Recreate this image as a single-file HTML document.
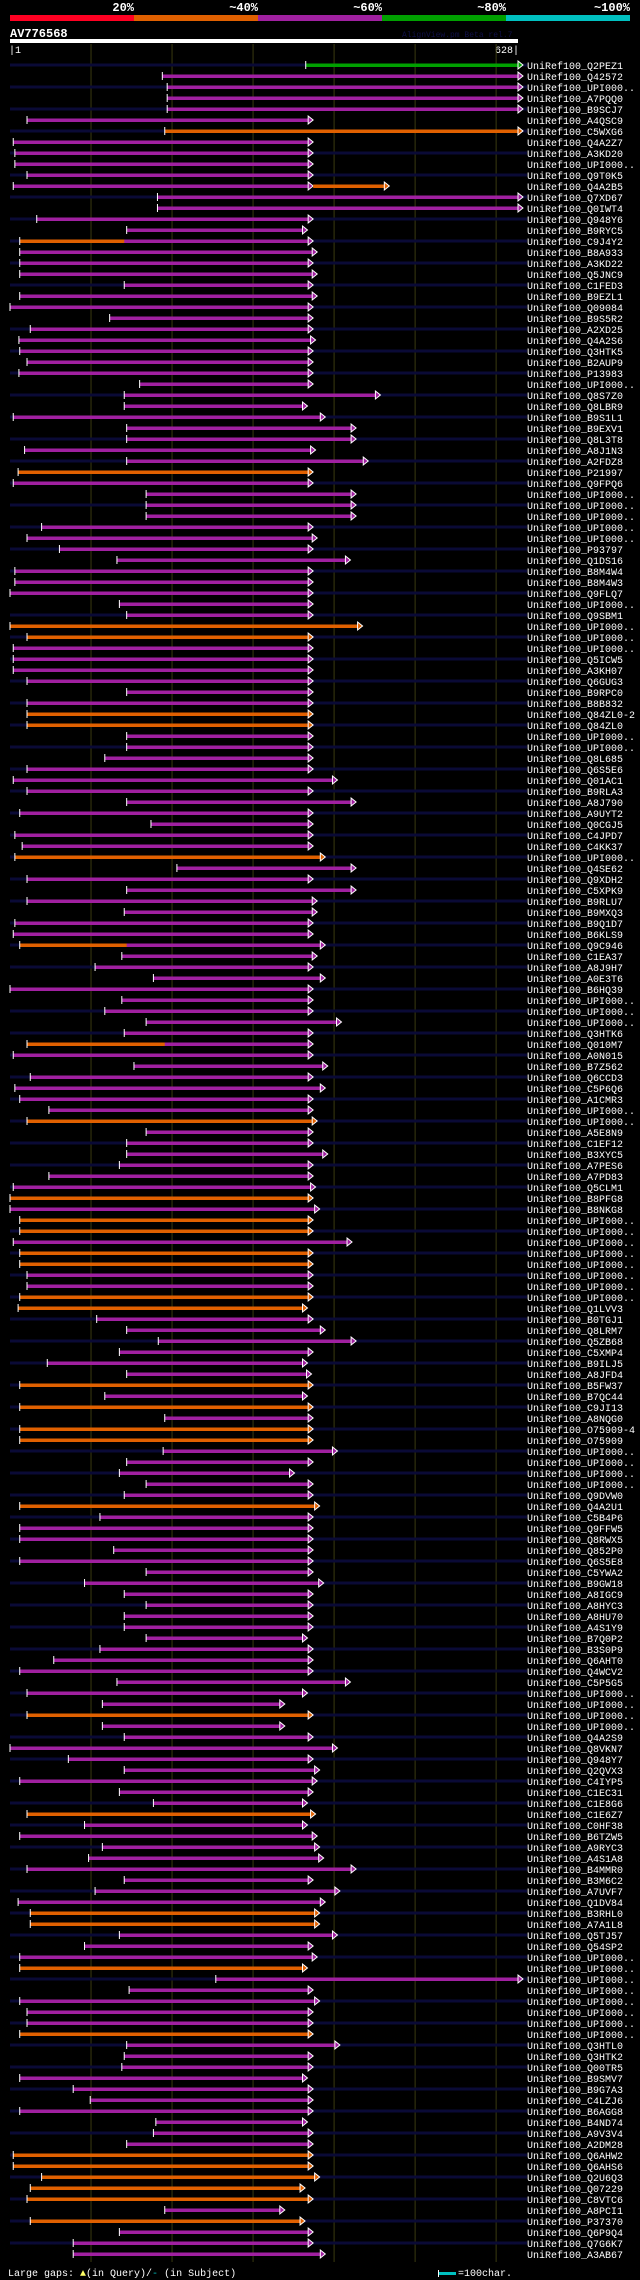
<!DOCTYPE html>
<html><head><meta charset="utf-8"><title>AV776568 alignment view</title>
<style>
html,body{margin:0;padding:0;background:#000;}
body{width:640px;height:2280px;overflow:hidden;font-family:"Liberation Mono",monospace;}
svg{display:block;}
</style></head>
<body>
<svg id="chart" width="640" height="2280" viewBox="0 0 640 2280" xmlns="http://www.w3.org/2000/svg">
<rect x="0" y="0" width="640" height="2280" fill="#000"/>
<g font-family="Liberation Mono, monospace" font-weight="bold" font-size="12" fill="#fff" text-anchor="end">
<text x="134" y="11">20%</text>
<text x="258" y="11">~40%</text>
<text x="382" y="11">~60%</text>
<text x="506" y="11">~80%</text>
<text x="630" y="11">~100%</text>
<rect x="10" y="15" width="124" height="6" fill="#ff0022"/>
<rect x="134" y="15" width="124" height="6" fill="#e06000"/>
<rect x="258" y="15" width="124" height="6" fill="#a020a0"/>
<rect x="382" y="15" width="124" height="6" fill="#00a000"/>
<rect x="506" y="15" width="124" height="6" fill="#00c0c0"/>
</g>
<text x="10" y="37" fill="#fff" font-weight="bold" font-size="12" font-family="Liberation Mono, monospace">AV776568</text>
<text x="402" y="37" fill="#101048" font-size="8" font-family="Liberation Mono, monospace">AlignView.pm Beta rel.7</text>
<rect x="10" y="39" width="508" height="4" fill="#fff"/>
<text x="9" y="53" fill="#fff" font-size="10" font-family="Liberation Mono, monospace">|1</text>
<text x="519" y="53" fill="#fff" font-size="10" text-anchor="end" font-family="Liberation Mono, monospace">628|</text>
<g id="grid"></g>
<g id="rows"></g>
<g font-family="Liberation Mono, monospace" font-size="10" fill="#fff">
<text x="8" y="2276">Large gaps: <tspan fill="#ffff66">▲</tspan>(in Query)/<tspan fill="#00c0c0">-</tspan> (in Subject)</text>
<rect x="438" y="2270" width="1" height="7" fill="#fff"/>
<rect x="439" y="2272" width="17" height="3" fill="#00c0c0"/>
<text x="458" y="2276">=100char.</text>
</g>
</svg>
<script>
const QLEN = 628;
const ids = ["Q2PEZ1","Q42572","UPI","A7PQQ0","B9SCJ7","A4QSC9","C5WXG6","Q4A2Z7","A3KD20","UPI","Q9T0K5","Q4A2B5","Q7XD67","Q0IWT4","Q948Y6","B9RYC5","C9J4Y2","B8A933","A3KD22","Q5JNC9","C1FED3","B9EZL1","Q09084","B9S5R2","A2XD25","Q4A2S6","Q3HTK5","B2AUP9","P13983",
"UPI","Q8S7Z0","Q8LBR9","B9S1L1","B9EXV1","Q8L3T8","A8J1N3","A2FDZ8","P21997","Q9FPQ6","UPI","UPI","UPI","UPI","UPI","P93797","Q1DS16","B8M4W4","B8M4W3","Q9FLQ7","UPI","Q9SBM1","UPI","UPI","UPI","Q5ICW5","A3KH07","Q6GUG3","B9RPC0",
"B8B832","Q84ZL0-2","Q84ZL0","UPI","UPI","Q8L685","Q6S5E6","Q01AC1","B9RLA3","A8J790","A9UYT2","Q0CGJ5","C4JPD7","C4KK37","UPI","Q4SE62","Q9XDH2","C5XPK9","B9RLU7","B9MXQ3","B9Q1D7","B6KLS9","Q9C946","C1EA37","A8J9H7","A0E3T6","B6HQ39","UPI",
"UPI","UPI","Q3HTK6","Q010M7","A0N015","B7Z562","Q6CCD3","C5P6Q6","A1CMR3","UPI","UPI","A5E8N9","C1EF12","B3XYC5","A7PES6","A7PD83","Q5CLM1","B8PFG8","B8NKG8","UPI","UPI","UPI","UPI","UPI","UPI","UPI","UPI",
"Q1LVV3","B0TGJ1","Q8LRM7","Q5ZB68","C5XMP4","B9ILJ5","A8JFD4","B5FW37","B7QC44","C9JI13","A8NQG0","O75909-4","O75909","UPI","UPI","UPI","UPI","Q9DVW0","Q4A2U1","C5B4P6","Q9FFW5","Q8RWX5","Q852P0","Q6S5E8","C5YWA2","B9GW18",
"A8IGC9","A8HYC3","A8HU70","A4S1Y9","B7Q0P2","B3S0P9","Q6AHT0","Q4WCV2","C5P5G5","UPI","UPI","UPI","UPI","Q4A2S9","Q8VKN7","Q948Y7","Q2QVX3","C4IYP5","C1EC31","C1E8G6","C1E6Z7","C0HF38","B6TZW5","A9RYC3","A4S1A8","B4MMR0",
"B3M6C2","A7UVF7","Q1DV84","B3RHL0","A7A1L8","Q5TJ57","Q54SP2","UPI","UPI","UPI","UPI","UPI","UPI","UPI","UPI","Q3HTL0","Q3HTK2","Q00TR5","B9SMV7","B9G7A3","C4LZJ6","B6AGG8","B4ND74","A9V3V4","A2DM28",
"Q6AHW2","Q6AHS6","Q2U6Q3","Q07229","C8VTC6","A8PCI1","P37370","Q6P9Q4","Q7G6K7","A3AB67"];
const starts = [366,189,195,195,195,22,192,5,7,7,22,5,183,183,34,145,13,13,13,13,142,13,1,124,26,12,13,22,12,
161,142,142,5,145,145,19,145,11,5,169,169,169,40,22,62,133,7,7,1,136,145,1,22,5,5,5,22,145,
22,22,22,145,145,118,22,5,22,145,13,175,7,16,7,207,22,145,22,142,7,5,13,139,106,178,1,139,
118,169,142,22,5,154,26,7,13,49,22,169,145,145,136,49,5,1,1,13,13,5,13,13,22,22,13,
11,108,145,184,136,47,145,13,118,13,192,13,13,190,145,136,169,142,13,112,13,13,129,13,169,93,
142,169,142,142,169,112,55,13,133,22,115,22,115,142,1,73,142,13,136,178,22,93,13,115,98,22,
142,106,11,26,26,136,93,13,13,255,148,13,22,22,13,145,142,139,13,79,100,13,181,178,145,
5,5,40,26,22,192,26,136,79,79];
const ends = [628,628,628,628,628,369,628,369,369,369,369,369,628,628,369,362,369,374,369,374,369,374,369,369,369,372,369,369,369,
369,452,362,384,422,422,372,437,369,369,422,422,422,369,374,369,415,369,369,369,369,369,430,369,369,369,369,369,369,
369,369,369,369,369,369,369,399,369,422,369,369,369,369,384,422,369,422,374,374,369,369,384,374,369,384,369,369,
369,404,369,369,369,387,369,384,369,369,374,369,369,387,369,369,372,369,377,369,369,417,369,369,369,369,369,
362,369,384,422,369,362,367,369,362,369,369,369,369,399,369,346,369,369,377,369,369,369,369,369,369,382,
369,369,369,369,362,369,369,369,415,362,334,369,334,369,399,369,377,374,369,362,372,362,374,377,382,422,
369,402,384,377,377,399,369,374,362,628,369,377,369,369,369,402,369,369,362,369,369,369,362,369,369,
369,369,377,359,369,334,359,369,369,384];
// 1-based row numbers with orange / green bars (others purple)
const orangeRows = [7,38,52,53,60,61,73,97,104,106,107,109,110,113,114,121,123,125,126,132,151,160,169,170,174,180,191,192,193,194,195,197];
const greenRows = [1];
// orange prefixes (residue where orange part ends) and orange extensions (0-based rows)
const prefixRow = [16,80,89];
const prefixEnd = [142,145,192];
const extRow = [11];
const extEnd = [463];

const X0 = 10, X1 = 518, ROW0 = 65, PITCH = 11;
const COL = {m:"#a020a0", o:"#e06000", g:"#00a000"};
function xs(r){ return X0 + (r-1)*(X1-X0)/(QLEN-1); }
function ys(i){ return ROW0 + i*PITCH; }
function colorOf(i){
  if (greenRows.indexOf(i+1) >= 0) return COL.g;
  if (orangeRows.indexOf(i+1) >= 0) return COL.o;
  return COL.m;
}

const NS = "http://www.w3.org/2000/svg";
function mk(tag, attrs, parent){
  const e = document.createElementNS(NS, tag);
  for (const k in attrs) e.setAttribute(k, attrs[k]);
  parent.appendChild(e);
  return e;
}
const grid = document.getElementById("grid");
for (let t = 100; t <= 600; t += 100){
  const l = mk("line", {x1:xs(t+1), x2:xs(t+1), y1:44, y2:2262, stroke:"#3a3a10", "stroke-width":1}, grid);
  
  
}
const rows = document.getElementById("rows");
for (let i = 0; i < ids.length; i++){
  const y = ys(i);
  const g = mk("g", {}, rows);
  
  
  if (i % 2 === 0){
    const tr = mk("rect", {x:X0, y:y-1.5, width:517, height:3, fill:"#0a0a36"}, g);
    
    
  }
  const c = colorOf(i);
  const sx = xs(starts[i]), ex = xs(ends[i]);
  const bar = mk("rect", {x:sx, y:y-1.5, width:Math.max(1, ex-sx), height:3.5, fill:c}, g);
  
  
  const pi = prefixRow.indexOf(i);
  if (pi >= 0){
    const pb = mk("rect", {x:sx, y:y-1.5, width:xs(prefixEnd[pi])-sx, height:3.5, fill:COL.o}, g);
    
    
  }
  const tick = mk("rect", {x:sx-0.5, y:y-4, width:1, height:8, fill:"#fff"}, g);
  
  
  const ar = mk("polygon", {points:(ex)+","+(y-4)+" "+(ex+5)+","+y+" "+(ex)+","+(y+4), fill:c, stroke:"#fff", "stroke-width":1}, g);
  
  
  const ei = extRow.indexOf(i);
  if (ei >= 0){
    const ee = xs(extEnd[ei]);
    const eb = mk("rect", {x:ex+5, y:y-1.5, width:ee-ex-5, height:3.5, fill:COL.o}, g);
    
    
    const ea = mk("polygon", {points:ee+","+(y-4)+" "+(ee+5)+","+y+" "+ee+","+(y+4), fill:COL.o, stroke:"#fff", "stroke-width":1}, g);
    
    
  }
  const lbl = mk("text", {x:527, y:y+4, fill:"#fff", "font-size":10, "font-family":"Liberation Mono, monospace"}, g);
  lbl.textContent = ids[i] === "UPI" ? "UniRef100_UPI000.." : "UniRef100_" + ids[i];
  
  
}
</script>
</body></html>
